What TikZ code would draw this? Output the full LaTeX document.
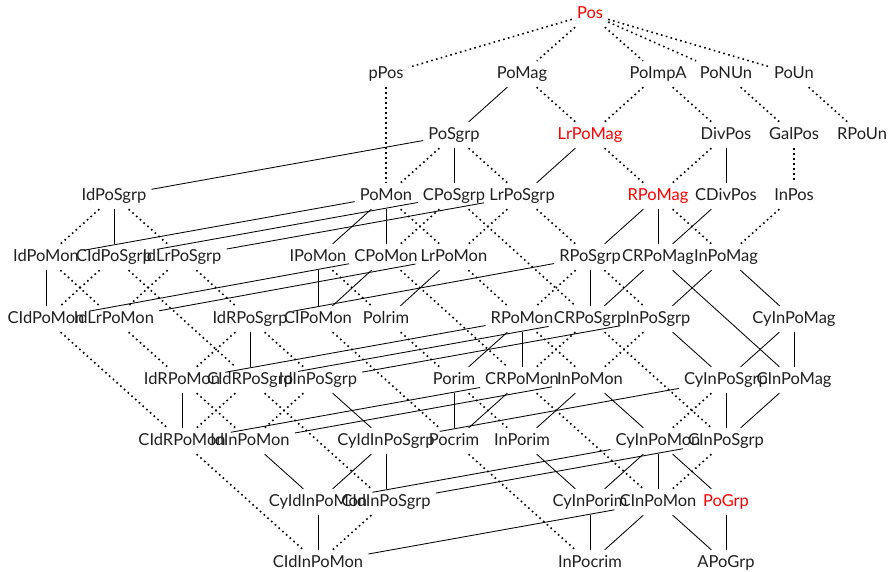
\documentclass[tikz,border=0pt]{standalone}
\usepackage{fontspec}
\setmainfont{Lato}
\begin{document}
\begin{tikzpicture}[x=1pt,y=-1pt,
  nd/.style={inner sep=5pt, text height=12pt, text depth=4pt, font=\fontsize{16.5}{18}\selectfont, text=black!88},
  rd/.style={nd, text=red},
  soll/.style={line width=0.85pt},
  dotl/.style={line width=1.6pt, dash pattern=on 1.6pt off 3.4pt}]
\useasboundingbox (0,0) rectangle (889,571);
% row 0
\node[rd] (Pos) at (590,14) {Pos};
% row 1
\node[nd] (pPos) at (386,74) {pPos};
\node[nd] (PoMag) at (522,74) {PoMag};
\node[nd] (PoImpA) at (658,74) {PoImpA};
\node[nd] (PoNUn) at (726,74) {PoNUn};
\node[nd] (PoUn) at (794,74) {PoUn};
% row 2
\node[nd] (PoSgrp) at (454,135) {PoSgrp};
\node[rd] (LrPoMag) at (590,135) {LrPoMag};
\node[nd] (DivPos) at (726,135) {DivPos};
\node[nd] (GalPos) at (794,135) {GalPos};
\node[nd] (RPoUn) at (862,135) {RPoUn};
% row 3
\node[nd] (IdPoSgrp) at (114,196) {IdPoSgrp};
\node[nd] (PoMon) at (386,196) {PoMon};
\node[nd] (CPoSgrp) at (454,196) {CPoSgrp};
\node[nd] (LrPoSgrp) at (522,196) {LrPoSgrp};
\node[rd] (RPoMag) at (658,196) {RPoMag};
\node[nd] (CDivPos) at (726,196) {CDivPos};
\node[nd] (InPos) at (794,196) {InPos};
% row 4
\node[nd] (IdPoMon) at (46,257) {IdPoMon};
\node[nd] (CIdPoSgrp) at (114,257) {CIdPoSgrp};
\node[nd] (IdLrPoSgrp) at (182,257) {IdLrPoSgrp};
\node[nd] (IPoMon) at (318,257) {IPoMon};
\node[nd] (CPoMon) at (386,257) {CPoMon};
\node[nd] (LrPoMon) at (454,257) {LrPoMon};
\node[nd] (RPoSgrp) at (590,257) {RPoSgrp};
\node[nd] (CRPoMag) at (658,257) {CRPoMag};
\node[nd] (InPoMag) at (726,257) {InPoMag};
% row 5
\node[nd] (CIdPoMon) at (46,319) {CIdPoMon};
\node[nd] (IdLrPoMon) at (114,319) {IdLrPoMon};
\node[nd] (IdRPoSgrp) at (250,319) {IdRPoSgrp};
\node[nd] (CIPoMon) at (318,319) {CIPoMon};
\node[nd] (Polrim) at (386,319) {Polrim};
\node[nd] (RPoMon) at (522,319) {RPoMon};
\node[nd] (CRPoSgrp) at (590,319) {CRPoSgrp};
\node[nd] (InPoSgrp) at (658,319) {InPoSgrp};
\node[nd] (CyInPoMag) at (794,319) {CyInPoMag};
% row 6
\node[nd] (IdRPoMon) at (182,380) {IdRPoMon};
\node[nd] (CIdRPoSgrp) at (250,380) {CIdRPoSgrp};
\node[nd] (IdInPoSgrp) at (318,380) {IdInPoSgrp};
\node[nd] (Porim) at (454,380) {Porim};
\node[nd] (CRPoMon) at (522,380) {CRPoMon};
\node[nd] (InPoMon) at (590,380) {InPoMon};
\node[nd] (CyInPoSgrp) at (726,380) {CyInPoSgrp};
\node[nd] (CInPoMag) at (794,380) {CInPoMag};
% row 7
\node[nd] (CIdRPoMon) at (182,441) {CIdRPoMon};
\node[nd] (IdInPoMon) at (250,441) {IdInPoMon};
\node[nd] (CyIdInPoSgrp) at (386,441) {CyIdInPoSgrp};
\node[nd] (Pocrim) at (454,441) {Pocrim};
\node[nd] (InPorim) at (522,441) {InPorim};
\node[nd] (CyInPoMon) at (658,441) {CyInPoMon};
\node[nd] (CInPoSgrp) at (726,441) {CInPoSgrp};
% row 8
\node[nd] (CyIdInPoMon) at (318,502) {CyIdInPoMon};
\node[nd] (CIdInPoSgrp) at (386,502) {CIdInPoSgrp};
\node[nd] (CyInPorim) at (590,502) {CyInPorim};
\node[nd] (CInPoMon) at (658,502) {CInPoMon};
\node[rd] (PoGrp) at (726,502) {PoGrp};
% row 9
\node[nd] (CIdInPoMon) at (318,563) {CIdInPoMon};
\node[nd] (InPocrim) at (590,563) {InPocrim};
\node[nd] (APoGrp) at (726,563) {APoGrp};
% edges
\draw[dotl] (Pos) -- (pPos);
\draw[dotl] (Pos) -- (PoMag);
\draw[dotl] (Pos) -- (PoImpA);
\draw[dotl] (Pos) -- (PoNUn);
\draw[dotl] (Pos) -- (PoUn);
\draw[dotl] (pPos) -- (PoMon);
\draw[soll] (PoMag) -- (PoSgrp);
\draw[dotl] (PoMag) -- (LrPoMag);
\draw[dotl] (PoImpA) -- (LrPoMag);
\draw[dotl] (PoImpA) -- (DivPos);
\draw[dotl] (PoNUn) -- (GalPos);
\draw[dotl] (PoUn) -- (RPoUn);
\draw[soll] (PoSgrp) -- (IdPoSgrp);
\draw[dotl] (PoSgrp) -- (PoMon);
\draw[soll] (PoSgrp) -- (CPoSgrp);
\draw[dotl] (PoSgrp) -- (LrPoSgrp);
\draw[soll] (LrPoMag) -- (LrPoSgrp);
\draw[dotl] (LrPoMag) -- (RPoMag);
\draw[dotl] (DivPos) -- (RPoMag);
\draw[soll] (DivPos) -- (CDivPos);
\draw[dotl] (GalPos) -- (InPos);
\draw[dotl] (IdPoSgrp) -- (IdPoMon);
\draw[soll] (IdPoSgrp) -- (CIdPoSgrp);
\draw[dotl] (IdPoSgrp) -- (IdLrPoSgrp);
\draw[soll] (PoMon) -- (IdPoMon);
\draw[soll] (PoMon) -- (IPoMon);
\draw[soll] (PoMon) -- (CPoMon);
\draw[dotl] (PoMon) -- (LrPoMon);
\draw[soll] (CPoSgrp) -- (CIdPoSgrp);
\draw[dotl] (CPoSgrp) -- (CPoMon);
\draw[dotl] (CPoSgrp) -- (CRPoSgrp);
\draw[soll] (LrPoSgrp) -- (IdLrPoSgrp);
\draw[dotl] (LrPoSgrp) -- (LrPoMon);
\draw[dotl] (LrPoSgrp) -- (RPoSgrp);
\draw[soll] (RPoMag) -- (RPoSgrp);
\draw[soll] (RPoMag) -- (CRPoMag);
\draw[dotl] (RPoMag) -- (InPoMag);
\draw[soll] (CDivPos) -- (CRPoMag);
\draw[dotl] (InPos) -- (InPoMag);
\draw[soll] (IdPoMon) -- (CIdPoMon);
\draw[dotl] (IdPoMon) -- (IdLrPoMon);
\draw[dotl] (CIdPoSgrp) -- (CIdPoMon);
\draw[dotl] (CIdPoSgrp) -- (CIdRPoSgrp);
\draw[dotl] (IdLrPoSgrp) -- (IdLrPoMon);
\draw[dotl] (IdLrPoSgrp) -- (IdRPoSgrp);
\draw[soll] (IPoMon) -- (CIPoMon);
\draw[dotl] (IPoMon) -- (Polrim);
\draw[soll] (CPoMon) -- (CIdPoMon);
\draw[soll] (CPoMon) -- (CIPoMon);
\draw[dotl] (CPoMon) -- (CRPoMon);
\draw[soll] (LrPoMon) -- (IdLrPoMon);
\draw[soll] (LrPoMon) -- (Polrim);
\draw[dotl] (LrPoMon) -- (RPoMon);
\draw[soll] (RPoSgrp) -- (IdRPoSgrp);
\draw[dotl] (RPoSgrp) -- (RPoMon);
\draw[soll] (RPoSgrp) -- (CRPoSgrp);
\draw[dotl] (RPoSgrp) -- (InPoSgrp);
\draw[soll] (CRPoMag) -- (CRPoSgrp);
\draw[soll] (CRPoMag) -- (CInPoMag);
\draw[soll] (InPoMag) -- (InPoSgrp);
\draw[soll] (InPoMag) -- (CyInPoMag);
\draw[dotl] (CIdPoMon) -- (CIdRPoMon);
\draw[dotl] (IdLrPoMon) -- (IdRPoMon);
\draw[dotl] (IdRPoSgrp) -- (IdRPoMon);
\draw[soll] (IdRPoSgrp) -- (CIdRPoSgrp);
\draw[dotl] (IdRPoSgrp) -- (IdInPoSgrp);
\draw[dotl] (CIPoMon) -- (Pocrim);
\draw[dotl] (Polrim) -- (Porim);
\draw[soll] (RPoMon) -- (IdRPoMon);
\draw[soll] (RPoMon) -- (Porim);
\draw[soll] (RPoMon) -- (CRPoMon);
\draw[dotl] (RPoMon) -- (InPoMon);
\draw[soll] (CRPoSgrp) -- (CIdRPoSgrp);
\draw[dotl] (CRPoSgrp) -- (CRPoMon);
\draw[dotl] (CRPoSgrp) -- (CInPoSgrp);
\draw[soll] (InPoSgrp) -- (IdInPoSgrp);
\draw[dotl] (InPoSgrp) -- (InPoMon);
\draw[soll] (InPoSgrp) -- (CyInPoSgrp);
\draw[soll] (CyInPoMag) -- (CyInPoSgrp);
\draw[soll] (CyInPoMag) -- (CInPoMag);
\draw[soll] (IdRPoMon) -- (CIdRPoMon);
\draw[dotl] (IdRPoMon) -- (IdInPoMon);
\draw[dotl] (CIdRPoSgrp) -- (CIdRPoMon);
\draw[dotl] (CIdRPoSgrp) -- (CIdInPoSgrp);
\draw[dotl] (IdInPoSgrp) -- (IdInPoMon);
\draw[soll] (IdInPoSgrp) -- (CyIdInPoSgrp);
\draw[soll] (Porim) -- (Pocrim);
\draw[dotl] (Porim) -- (InPorim);
\draw[soll] (CRPoMon) -- (CIdRPoMon);
\draw[soll] (CRPoMon) -- (Pocrim);
\draw[dotl] (CRPoMon) -- (CInPoMon);
\draw[soll] (InPoMon) -- (IdInPoMon);
\draw[soll] (InPoMon) -- (InPorim);
\draw[soll] (InPoMon) -- (CyInPoMon);
\draw[soll] (CyInPoSgrp) -- (CyIdInPoSgrp);
\draw[dotl] (CyInPoSgrp) -- (CyInPoMon);
\draw[soll] (CyInPoSgrp) -- (CInPoSgrp);
\draw[soll] (CInPoMag) -- (CInPoSgrp);
\draw[dotl] (CIdRPoMon) -- (CIdInPoMon);
\draw[soll] (IdInPoMon) -- (CyIdInPoMon);
\draw[soll] (CyIdInPoSgrp) -- (CyIdInPoMon);
\draw[soll] (CyIdInPoSgrp) -- (CIdInPoSgrp);
\draw[dotl] (Pocrim) -- (InPocrim);
\draw[soll] (InPorim) -- (CyInPorim);
\draw[soll] (CyInPoMon) -- (CyIdInPoMon);
\draw[soll] (CyInPoMon) -- (CyInPorim);
\draw[soll] (CyInPoMon) -- (CInPoMon);
\draw[soll] (CyInPoMon) -- (PoGrp);
\draw[soll] (CInPoSgrp) -- (CIdInPoSgrp);
\draw[dotl] (CInPoSgrp) -- (CInPoMon);
\draw[soll] (CyIdInPoMon) -- (CIdInPoMon);
\draw[dotl] (CIdInPoSgrp) -- (CIdInPoMon);
\draw[soll] (CyInPorim) -- (InPocrim);
\draw[soll] (CInPoMon) -- (CIdInPoMon);
\draw[soll] (CInPoMon) -- (InPocrim);
\draw[soll] (CInPoMon) -- (APoGrp);
\draw[soll] (PoGrp) -- (APoGrp);
\end{tikzpicture}
\end{document}
